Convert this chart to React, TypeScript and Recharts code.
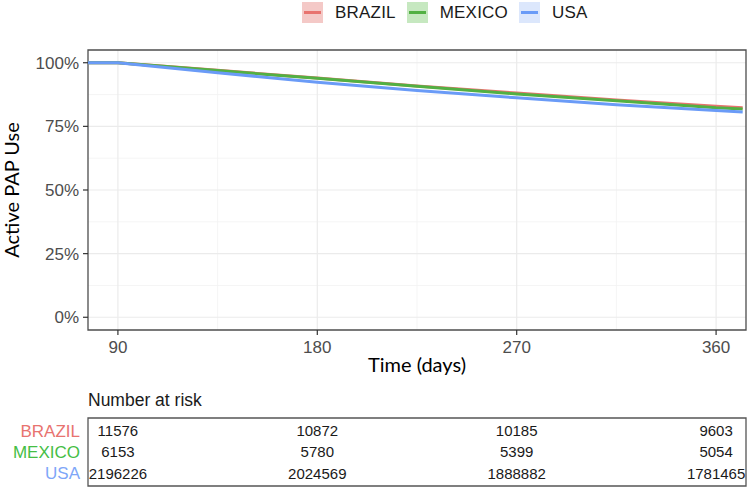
import {
  CartesianGrid,
  Label,
  Line,
  LineChart,
  ReferenceArea,
  Scatter,
  ScatterChart,
  XAxis,
  YAxis,
} from 'recharts';

const days = [0, 90, 135, 180, 225, 270, 315, 360, 372];
const brazil = [1, 1, 0.97, 0.94, 0.909, 0.881, 0.854, 0.829, 0.823];
const mexico = [1, 1, 0.969, 0.939, 0.908, 0.877, 0.851, 0.823, 0.818];
const usa = [1, 1, 0.961, 0.923, 0.891, 0.862, 0.835, 0.812, 0.806];

const xTicks = [90, 180, 270, 360];
const yTicks = [0, 0.25, 0.5, 0.75, 1];

const riskDays = [90, 180, 270, 360];
const brazilRisk = [11576, 10872, 10185, 9603];
const mexicoRisk = [6153, 5780, 5399, 5054];
const usaRisk = [2196226, 2024569, 1888882, 1781465];

const groups = [
  { key: 'BRAZIL', values: brazil, risk: brazilRisk, line: '#E8736F', fill: '#F4C9C7', label: '#E8736F', row: 3 },
  { key: 'MEXICO', values: mexico, risk: mexicoRisk, line: '#52B043', fill: '#C6E8C0', label: '#45BE45', row: 2 },
  { key: 'USA', values: usa, risk: usaRisk, line: '#6A9BF7', fill: '#DCE7FC', label: '#7EA6F8', row: 1 },
];

const xDomain: [number, number] = [76.5, 373.5];
const yDomain: [number, number] = [-0.05, 1.05];

const curveData = days.map((d, i) => {
  const row: Record<string, number> = { day: d };
  groups.forEach((g) => {
    row[g.key] = g.values[i];
  });
  return row;
});

const riskData = groups.flatMap((g) =>
  riskDays.map((d, i) => ({ day: d, row: g.row, n: g.risk[i] }))
);

const sans = '"Liberation Sans", Arial, sans-serif';
const calibri = 'Lato, "Open Sans", sans-serif';

function RiskText(props: any) {
  const { cx, cy, payload } = props;
  return (
    <text x={cx} y={cy} dy="0.36em" textAnchor="middle" fontSize={15} fontFamily={sans} fill="#1a1a1a">
      {payload.n}
    </text>
  );
}

function RowTick(props: any) {
  const { x, y, payload } = props;
  const g = groups.find((item) => item.row === payload.value);
  return (
    <text x={x} y={y} dy="0.36em" textAnchor="end" fontSize={17} fontFamily={sans} fill={g ? g.label : '#333'}>
      {g ? g.key : ''}
    </text>
  );
}

export default function App() {
  return (
    <div style={{ position: 'absolute', left: 0, top: 0, width: 749, height: 489, background: '#fff' }}>
      <div
        style={{
          position: 'absolute',
          left: 302,
          top: 2,
          display: 'flex',
          alignItems: 'center',
          fontFamily: sans,
          fontSize: 17,
          color: '#1a1a1a',
        }}
      >
        {groups.map((g) => (
          <div key={g.key} style={{ display: 'flex', alignItems: 'center', marginRight: 11 }}>
            <div style={{ width: 21, height: 21, background: g.fill, position: 'relative' }}>
              <div style={{ position: 'absolute', left: 2, right: 2, top: 9, height: 3, background: g.line }} />
            </div>
            <span style={{ marginLeft: 12, letterSpacing: 0.2 }}>{g.key}</span>
          </div>
        ))}
      </div>

      <div style={{ position: 'absolute', left: 0, top: 0 }}>
        <LineChart width={749} height={380} data={curveData} margin={{ top: 50, right: 3, bottom: 0, left: 0 }}>
          <CartesianGrid stroke="#F3F3F3" strokeWidth={0.8} horizontalValues={[0.125, 0.375, 0.625, 0.875]} verticalValues={[135, 225, 315]} />
          <CartesianGrid stroke="#EBEBEB" strokeWidth={1.2} horizontalValues={yTicks} verticalValues={xTicks} />
          <XAxis
            dataKey="day"
            type="number"
            domain={xDomain}
            allowDataOverflow
            ticks={xTicks}
            interval={0}
            height={50}
            axisLine={false}
            tickSize={5}
            tickMargin={6}
            tickLine={{ stroke: '#333', strokeWidth: 1.2 }}
            tick={{ fill: '#4D4D4D', fontSize: 17, fontFamily: sans }}
          >
            <Label value="Time (days)" position="insideBottom" offset={8} fill="#000" fontSize={20} fontFamily={calibri} />
          </XAxis>
          <YAxis
            type="number"
            domain={yDomain}
            allowDataOverflow
            ticks={yTicks}
            interval={0}
            width={88}
            axisLine={false}
            tickSize={5}
            tickMargin={4}
            tickLine={{ stroke: '#333', strokeWidth: 1.2 }}
            tickFormatter={(v: number) => `${Math.round(v * 100)}%`}
            tick={{ fill: '#4D4D4D', fontSize: 17, fontFamily: sans }}
          >
            <Label value="Active PAP Use" angle={-90} position="insideLeft" offset={12} fill="#000" fontSize={20} fontFamily={calibri} style={{ textAnchor: 'middle' }} />
          </YAxis>
          {groups.map((g) => (
            <Line
              key={g.key}
              dataKey={g.key}
              type="linear"
              stroke={g.line}
              strokeWidth={3}
              dot={false}
              isAnimationActive={false}
            />
          ))}
          <ReferenceArea
            x1={xDomain[0]}
            x2={xDomain[1]}
            y1={yDomain[0]}
            y2={yDomain[1]}
            fill="none"
            stroke="#4D4D4D"
            strokeWidth={1.3}
            ifOverflow="visible"
          />
        </LineChart>
      </div>

      <div
        style={{
          position: 'absolute',
          left: 88,
          top: 390,
          fontFamily: sans,
          fontSize: 17.5,
          color: '#1a1a1a',
          lineHeight: '20px',
        }}
      >
        Number at risk
      </div>

      <div style={{ position: 'absolute', left: 0, top: 405 }}>
        <ScatterChart width={749} height={84} margin={{ top: 13, right: 3, bottom: 3, left: 0 }}>
          <XAxis dataKey="day" type="number" domain={xDomain} allowDataOverflow hide />
          <YAxis
            dataKey="row"
            type="number"
            domain={[0.4, 3.6]}
            ticks={[1, 2, 3]}
            interval={0}
            width={88}
            axisLine={false}
            tickLine={false}
            tickSize={6}
            tickMargin={2}
            tick={<RowTick />}
          />
          <ReferenceArea
            x1={xDomain[0]}
            x2={xDomain[1]}
            y1={0.4}
            y2={3.6}
            fill="none"
            stroke="#555"
            strokeWidth={1.3}
            ifOverflow="visible"
          />
          <Scatter data={riskData} shape={<RiskText />} isAnimationActive={false} />
        </ScatterChart>
      </div>
    </div>
  );
}
